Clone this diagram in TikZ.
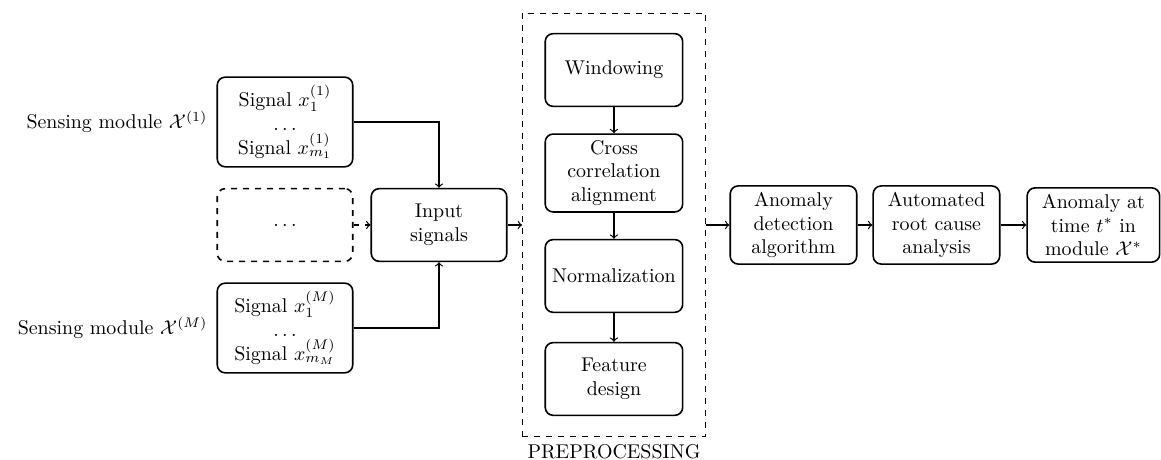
\documentclass[tikz,border=0pt]{standalone}
\usetikzlibrary{positioning,fit}
\tikzset{
    block/.style={draw, thick, rectangle, rounded corners=4pt, align=center,
        minimum width=63.5pt, minimum height=36.5pt, inner sep=3pt},
    sigblock/.style={block, minimum width=68pt, minimum height=45pt},
    prepblock/.style={block, minimum width=69pt},
    flow/.style={->, semithick}
}
\begin{document}
\begin{tikzpicture}
    \useasboundingbox (0,0) rectangle (20.48,-8.114);
    % sensing modules
    \node[sigblock] (sig1) at (5.027,-2.152) {Signal $x_1^{(1)}$\\ $\dots$\\ Signal $x_{m_1}^{(1)}$};
    \node[sigblock, dashed, minimum height=36.5pt] (dots) at (5.027,-3.969) {$\dots$};
    \node[sigblock] (sigM) at (5.027,-5.786) {Signal $x_1^{(M)}$\\ $\dots$\\ Signal $x_{m_M}^{(M)}$};
    \node[left=1pt of sig1] (mod1) {Sensing module $\mathcal{X}^{(1)}$};
    \node[left=1pt of sigM] (modM) {Sensing module $\mathcal{X}^{(M)}$};
    \node[block, minimum width=68pt] (input) at (7.744,-3.969) {Input\\ signals};
    % preprocessing
    \node[prepblock] (win)   at (10.83,-1.235) {Windowing};
    \node[prepblock] (cross) at (10.83,-3.052) {Cross\\ correlation\\ alignment};
    \node[prepblock] (norm)  at (10.83,-4.868) {Normalization};
    \node[prepblock] (feat)  at (10.83,-6.685) {Feature\\ design};
    \node[draw, dashed, inner xsep=11pt, inner ysep=10pt, fit=(win)(feat)] (prep) {};
    \node[below=2pt of prep, inner sep=2pt] (preplabel) {PREPROCESSING};
    % detection
    \node[block] (det) at (13.997,-3.969) {Anomaly\\ detection\\ algorithm};
    \node[block] (rca) at (16.519,-3.969) {Automated\\ root cause\\ analysis};
    \node[block, minimum width=66.5pt] (out) at (19.288,-3.969) {Anomaly at\\ time $t^*$ in\\ module $\mathcal{X}^*$};
    % connectors
    \draw[flow] (sig1.east) -| (input.north);
    \draw[flow] (sigM.east) -| (input.south);
    \draw[flow, dashed] (dots) -- (input);
    \draw[flow] (input) -- (input -| prep.west);
    \draw[flow] (win) -- (cross);
    \draw[flow] (cross) -- (norm);
    \draw[flow] (norm) -- (feat);
    \draw[flow] (prep.east |- det) -- (det);
    \draw[flow] (det) -- (rca);
    \draw[flow] (rca) -- (out);
\end{tikzpicture}
\end{document}
